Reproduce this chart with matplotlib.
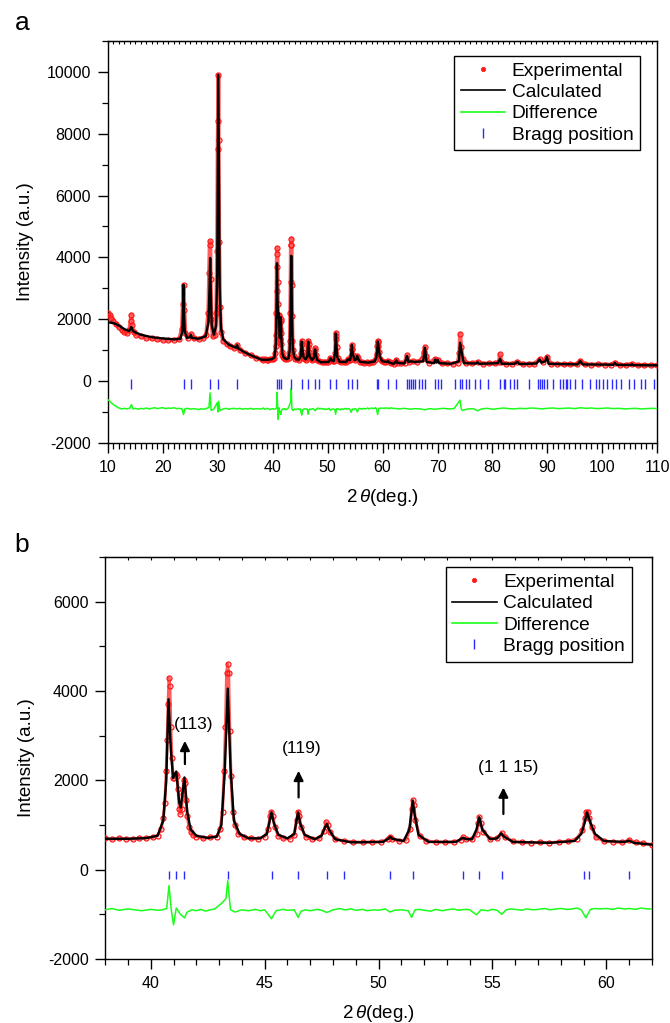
import numpy as np
import matplotlib
matplotlib.use('Agg')
import matplotlib.pyplot as plt
from matplotlib.lines import Line2D
from matplotlib.ticker import MultipleLocator

plt.rcParams['font.family'] = ['Liberation Sans', 'DejaVu Sans']
plt.rcParams['mathtext.fontset'] = 'custom'
plt.rcParams['mathtext.rm'] = 'Liberation Sans'
plt.rcParams['mathtext.it'] = 'Liberation Sans:italic'
plt.rcParams['axes.unicode_minus'] = False

# ---- panel b range (38-62 deg), also reused inside panel a ----
calc_b_x = [38.0, 39.0, 39.8, 40.3, 40.55, 40.68, 40.78, 40.88, 40.98, 41.12, 41.25, 41.32,
            41.48, 41.6, 41.75, 42.0, 42.5, 42.9, 43.1, 43.25, 43.38, 43.5, 43.65, 43.9,
            44.3, 44.8, 45.1, 45.22, 45.3, 45.4, 45.6, 46.0, 46.3, 46.4, 46.47, 46.55,
            46.75, 47.2, 47.5, 47.65, 47.73, 47.82, 48.1, 48.8, 50.2, 50.45, 50.52, 50.6,
            51.1, 51.35, 51.45, 51.5, 51.58, 51.75, 52.2, 53.4, 53.65, 53.72, 53.85, 54.1,
            54.3, 54.42, 54.55, 54.9, 55.2, 55.38, 55.5, 55.9, 57.5, 58.6, 58.9, 59.05,
            59.15, 59.3, 59.5, 59.9, 60.8, 61.0, 61.2, 62.0]
calc_b_y = [690, 690, 705, 760, 1100, 2000, 3814, 2700, 2050, 2197, 1500, 1392,
            2063, 1300, 900, 760, 710, 740, 1000, 2200, 4052, 2300, 1100, 800,
            700, 700, 800, 1100, 1281, 1050, 780, 700, 800, 1100, 1281, 1050,
            780, 680, 760, 950, 1021, 900, 680, 610, 620, 700, 737, 690,
            640, 900, 1300, 1542, 1250, 780, 620, 620, 700, 708, 680, 680,
            900, 1169, 900, 680, 700, 812, 740, 620, 600, 640, 800, 1050,
            1281, 1050, 800, 640, 620, 648, 600, 559]

obs_b_x = [38.0, 38.3, 38.6, 38.9, 39.2, 39.5, 39.8, 40.1, 40.3, 40.45, 40.55, 40.62, 40.68,
           40.72, 40.76, 40.8, 40.84, 40.88, 40.93, 40.98, 41.04, 41.1, 41.15, 41.2, 41.25,
           41.3, 41.35, 41.4, 41.45, 41.5, 41.55, 41.6, 41.68, 41.75, 41.85, 42.0, 42.3,
           42.6, 42.9, 43.05, 43.15, 43.22, 43.28, 43.33, 43.38, 43.42, 43.47, 43.52, 43.6,
           43.7, 43.85, 44.1, 44.4, 44.7, 45.0, 45.15, 45.25, 45.3, 45.36, 45.45, 45.6,
           45.8, 46.1, 46.3, 46.4, 46.47, 46.52, 46.6, 46.8, 47.1, 47.4, 47.6, 47.7,
           47.76, 47.85, 48.1, 48.5, 48.9, 49.3, 49.7, 50.1, 50.4, 50.5, 50.6, 50.9,
           51.2, 51.38, 51.45, 51.5, 51.55, 51.62, 51.8, 52.1, 52.5, 52.9, 53.3, 53.6,
           53.7, 53.85, 54.1, 54.3, 54.38, 54.42, 54.48, 54.6, 54.9, 55.2, 55.4, 55.55,
           55.9, 56.3, 56.7, 57.1, 57.5, 57.9, 58.3, 58.7, 58.95, 59.05, 59.12, 59.18,
           59.25, 59.35, 59.55, 59.9, 60.3, 60.7, 61.0, 61.3, 61.6, 62.0]
obs_b_y = [700, 680, 700, 690, 680, 700, 710, 720, 760, 900, 1150, 1500, 2200,
           2900, 3700, 4297, 4100, 3200, 2500, 2050, 2050, 2150, 2100, 1800, 1350,
           1250, 1350, 1700, 2000, 1950, 1550, 1200, 950, 850, 770, 740, 700,
           720, 740, 900, 1300, 2200, 3200, 4400, 4611, 4400, 3100, 2100, 1300,
           1000, 800, 720, 700, 690, 740, 900, 1200, 1300, 1200, 950, 760,
           700, 690, 780, 1100, 1300, 1200, 950, 740, 680, 700, 860, 1060,
           1000, 850, 680, 640, 620, 610, 620, 620, 680, 740, 690, 640,
           660, 900, 1350, 1560, 1450, 1100, 760, 640, 620, 610, 620, 660,
           720, 690, 680, 800, 1050, 1170, 1050, 850, 690, 700, 820, 740,
           630, 610, 600, 610, 600, 620, 630, 690, 880, 1150, 1300, 1280,
           1150, 950, 720, 640, 620, 610, 660, 610, 590, 560]

diff_b_x = [38.0, 38.3, 38.6, 39.0, 39.3, 39.6, 40.0, 40.3, 40.5, 40.7, 40.8, 40.9, 41.0,
            41.12, 41.3, 41.48, 41.6, 41.8, 42.0, 42.2, 42.4, 42.6, 42.8, 43.1, 43.3, 43.38,
            43.5, 43.7, 44.0, 44.3, 44.6, 44.8, 45.0, 45.3, 45.5, 45.8, 46.0, 46.3, 46.47,
            46.6, 46.8, 47.0, 47.3, 47.5, 47.73, 48.0, 48.3, 48.5, 48.8, 49.0, 49.3, 49.5,
            49.8, 50.0, 50.3, 50.5, 50.7, 51.0, 51.3, 51.45, 51.6, 51.8, 52.0, 52.3, 52.5,
            52.8, 53.0, 53.3, 53.5, 53.8, 54.0, 54.3, 54.5, 54.8, 55.0, 55.2, 55.41, 55.6,
            55.8, 56.0, 56.3, 56.5, 56.8, 57.0, 57.3, 57.5, 57.8, 58.0, 58.3, 58.5, 58.7,
            58.9, 59.1, 59.3, 59.5, 59.7, 60.0, 60.3, 60.5, 60.8, 61.0, 61.3, 61.5, 61.8, 62.0]
diff_b_y = [-900, -870, -910, -880, -900, -920, -890, -910, -900, -870, -358, -900, -1236,
            -860, -1000, -1080, -950, -900, -920, -890, -930, -900, -880, -760, -650, -246,
            -900, -950, -900, -920, -890, -920, -900, -1100, -920, -890, -910, -900, -1070,
            -930, -900, -920, -890, -910, -960, -900, -870, -900, -880, -910, -890, -920,
            -900, -910, -880, -950, -910, -900, -920, -1070, -900, -890, -910, -930, -890,
            -920, -900, -880, -910, -890, -900, -1010, -900, -920, -890, -910, -1000, -900,
            -880, -890, -910, -880, -900, -890, -870, -900, -880, -870, -890, -880, -860,
            -900, -1080, -890, -870, -880, -870, -890, -860, -880, -870, -890, -860, -880, -880]

# ---- panel a, low angle part (10-38 deg) ----
calc_lo_x = [10.0, 11.0, 12.0, 13.0, 13.9, 14.15, 14.27, 14.4, 14.7, 16.0, 18.0, 20.0, 22.0,
             23.2, 23.55, 23.7, 23.77, 23.85, 24.0, 24.4, 25.0, 25.12, 25.25, 26.5, 27.8,
             28.3, 28.5, 28.62, 28.72, 28.9, 29.3, 29.7, 29.9, 30.0, 30.1, 30.2, 30.35,
             30.6, 31.0, 32.0, 33.3, 33.54, 33.7, 35.0, 36.5]
calc_lo_y = [1900, 1880, 1800, 1680, 1620, 1700, 1750, 1680, 1600, 1500, 1420, 1380, 1350,
             1370, 1600, 2400, 3118, 2300, 1600, 1400, 1420, 1500, 1400, 1370, 1450,
             1900, 3000, 3978, 3000, 1800, 1500, 1800, 3500, 7000, 9900, 7000, 3000,
             1700, 1350, 1180, 1080, 1160, 1060, 920, 800]
obs_lo_x = [10.0, 10.3, 10.6, 11.0, 11.5, 12.0, 12.5, 13.0, 13.5, 13.9, 14.15, 14.27, 14.4,
            14.7, 15.2, 16.0, 17.0, 18.0, 19.0, 20.0, 21.0, 22.0, 23.0, 23.5, 23.65, 23.77,
            23.9, 24.1, 24.5, 25.12, 25.6, 26.5, 27.4, 27.9, 28.3, 28.45, 28.55, 28.62, 28.7,
            28.85, 29.1, 29.5, 29.75, 29.9, 30.0, 30.05, 30.1, 30.15, 30.25, 30.4, 30.6, 31.0,
            31.6, 32.3, 33.0, 33.54, 34.0, 35.0, 36.0, 37.0]
obs_lo_y = [2200, 2150, 2050, 1950, 1850, 1750, 1650, 1580, 1550, 1650, 1950, 2150, 1800,
            1600, 1500, 1450, 1400, 1380, 1350, 1330, 1320, 1340, 1350, 1700, 2500, 3100,
            2300, 1550, 1400, 1520, 1380, 1360, 1400, 1500, 2200, 3500, 4400, 4516, 3300,
            2000, 1450, 1500, 2200, 4200, 7500, 8400, 9900, 7800, 4500, 2400, 1600, 1300,
            1200, 1120, 1060, 1180, 1000, 910, 830, 760]
diff_lo_x = [10.0, 10.5, 11.0, 11.5, 12.0, 12.5, 13.0, 13.5, 14.0, 14.27, 14.6, 15.0, 15.5,
             16.0, 16.5, 17.0, 17.5, 18.0, 18.5, 19.0, 19.5, 20.0, 20.5, 21.0, 21.5, 22.0,
             22.5, 23.0, 23.5, 23.77, 24.0, 24.5, 25.0, 25.5, 26.0, 26.5, 27.0, 27.5, 28.0,
             28.4, 28.6, 28.8, 29.3, 29.9, 30.05, 30.15, 30.4, 31.0, 31.5, 32.0, 32.5, 33.0,
             33.5, 34.0, 34.5, 35.0, 35.5, 36.0, 36.5, 37.0, 37.5, 38.0]
diff_lo_y = [-600, -680, -760, -820, -870, -900, -880, -900, -870, -760, -900, -880, -910,
             -880, -900, -870, -900, -880, -860, -890, -870, -860, -890, -870, -880, -860,
             -890, -880, -900, -1080, -900, -880, -910, -890, -900, -920, -890, -910, -880,
             -850, -380, -950, -900, -700, -1000, -650, -950, -900, -880, -910, -890, -880,
             -900, -880, -910, -890, -900, -880, -910, -890, -900, -900]

# ---- panel a, high angle part (62-110 deg) ----
calc_hi_x = [62.3, 62.52, 62.7, 64.0, 64.47, 64.7, 65.2, 65.9, 67.4, 67.71, 68.0, 69.4, 69.59,
             69.8, 70.06, 70.3, 72.5, 73.9, 74.11, 74.44, 74.8, 77.0, 77.3, 77.6, 81.0, 81.38,
             81.7, 84.0, 84.55, 84.9, 88.0, 88.59, 88.9, 89.6, 89.94, 90.2, 95.5, 96.0, 96.4,
             102.0, 102.3, 102.6, 105.2, 105.4, 105.6, 110.0]
calc_hi_y = [600, 670, 590, 570, 810, 620, 640, 620, 640, 1080, 620, 580, 700,
             600, 680, 580, 560, 640, 1242, 900, 580, 570, 610, 560, 580, 720,
             560, 560, 620, 550, 570, 700, 600, 640, 780, 560, 540, 650, 540,
             530, 590, 525, 520, 550, 515, 510]
obs_hi_x = [62.3, 62.52, 62.8, 63.4, 64.0, 64.47, 64.8, 65.5, 66.3, 67.2, 67.55, 67.71, 67.9,
            68.5, 69.59, 70.06, 70.8, 71.8, 72.8, 73.7, 74.0, 74.11, 74.3, 74.6, 75.2, 76.2,
            77.3, 78.2, 79.3, 80.5, 81.2, 81.38, 81.6, 82.5, 83.6, 84.55, 85.5, 86.6, 87.6,
            88.59, 89.2, 89.94, 90.6, 91.8, 93.0, 94.2, 95.3, 96.0, 96.8, 98.0, 99.2, 100.4,
            101.5, 102.3, 103.2, 104.3, 105.4, 106.5, 107.6, 108.8, 110.0]
obs_hi_y = [620, 690, 600, 580, 600, 830, 620, 640, 620, 700, 950, 1100, 800,
            600, 710, 690, 580, 570, 560, 600, 900, 1533, 1100, 700, 600, 570,
            620, 560, 570, 570, 620, 864, 610, 560, 560, 630, 550, 560, 560,
            710, 620, 790, 560, 550, 540, 550, 540, 660, 540, 530, 540, 535,
            530, 600, 525, 520, 560, 515, 520, 510, 515]
diff_hi_x = [62.0, 63.0, 64.0, 65.0, 66.0, 67.0, 67.7, 68.5, 69.5, 70.0, 71.0, 72.0, 73.0,
             74.1, 74.3, 74.5, 75.5, 76.5, 77.3, 78.0, 79.0, 80.0, 81.0, 82.0, 83.0, 84.0,
             85.0, 86.0, 87.0, 88.0, 89.0, 90.0, 91.0, 92.0, 93.0, 94.0, 95.0, 96.0, 97.0,
             98.0, 99.0, 100.0, 101.0, 102.0, 103.0, 104.0, 105.0, 106.0, 107.0, 108.0, 109.0,
             110.0]
diff_hi_y = [-880, -900, -880, -910, -890, -900, -930, -890, -910, -900, -880, -900, -890,
             -616, -880, -950, -900, -890, -960, -900, -880, -910, -890, -870, -890, -900,
             -880, -890, -870, -880, -900, -880, -870, -890, -880, -870, -890, -860, -880,
             -870, -890, -880, -870, -890, -880, -900, -890, -880, -900, -890, -880, -890]

bragg_a = [14.27, 23.77, 25.12, 28.62, 30.1, 33.54, 40.8, 41.12, 41.48, 43.38, 45.33, 46.47,
           47.73, 48.5, 50.5, 51.5, 53.7, 54.42, 55.41, 59.02, 59.24, 61.01, 62.52, 64.47,
           64.81, 65.21, 65.48, 65.89, 66.69, 67.17, 67.71, 69.59, 70.06, 70.6, 73.1, 74.11,
           74.44, 75.12, 75.79, 76.8, 77.81, 79.16, 81.38, 82.06, 82.33, 83.2, 83.88, 84.55,
           86.57, 88.26, 88.59, 88.93, 89.47, 89.94, 90.95, 92.3, 92.84, 93.31, 93.65, 94.19,
           95.0, 96.34, 97.69, 98.9, 99.37, 100.05, 100.92, 101.73, 102.41, 103.42, 104.77,
           105.78, 107.12, 107.8, 109.49]
bragg_b = [40.8, 41.12, 41.48, 43.38, 45.33, 46.47, 47.73, 48.5, 50.5, 51.5, 53.7, 54.42,
           55.41, 59.02, 59.24, 61.01]

hkl_labels = ['(113)', '(119)', '(1 1 15)']
hkl_pos = [41.5, 46.49, 55.48]

# full pattern for panel a
calc_a_x = np.concatenate([calc_lo_x, calc_b_x, calc_hi_x])
calc_a_y = np.concatenate([calc_lo_y, calc_b_y, calc_hi_y])
obs_a_x = np.concatenate([obs_lo_x, obs_b_x, obs_hi_x])
obs_a_y = np.concatenate([obs_lo_y, obs_b_y, obs_hi_y])
diff_a_x = np.concatenate([diff_lo_x, diff_b_x[1:], diff_hi_x[1:]])
diff_a_y = np.concatenate([diff_lo_y, diff_b_y[1:], diff_hi_y[1:]])

RED = '#ff1a1a'
GREEN = '#19ff19'
BLUE = '#2b2bff'


def draw_panel(ax, ox, oy, cx, cy, dx, dy, bragg, bragg_y, ms_tick, band):
    ax.plot(ox, oy, '-', color=RED, lw=band, alpha=0.7, zorder=2)
    ax.plot(ox, oy, 'o', mfc='none', mec=RED, mew=0.9, ms=3.6, zorder=3)
    ax.plot(cx, cy, '-', color='black', lw=1.7, zorder=4)
    ax.plot(dx, dy, '-', color=GREEN, lw=1.1, zorder=3)
    ax.plot(bragg, [bragg_y] * len(bragg), '|', color=BLUE, ms=ms_tick, mew=1.0, zorder=3)
    handles = [Line2D([], [], ls='none', marker='o', mfc=RED, mec=RED, mew=0.6, ms=3),
               Line2D([], [], color='black', lw=1.2),
               Line2D([], [], color=GREEN, lw=1.2),
               Line2D([], [], ls='none', marker='|', color=BLUE, ms=7, mew=1.0)]
    return handles


def style_axes(ax, xmaj, ymaj):
    ax.xaxis.set_major_locator(MultipleLocator(xmaj))
    ax.xaxis.set_minor_locator(MultipleLocator(1))
    ax.yaxis.set_major_locator(MultipleLocator(ymaj))
    ax.yaxis.set_minor_locator(MultipleLocator(1000))
    ax.tick_params(which='major', direction='out', length=7, width=1.0, labelsize=11.5,
                   pad=5)
    ax.tick_params(which='minor', direction='out', length=4, width=0.9)
    top = ax.secondary_xaxis('top')
    top.xaxis.set_major_locator(MultipleLocator(xmaj))
    top.xaxis.set_minor_locator(MultipleLocator(1))
    top.tick_params(which='both', direction='in', length=2.5, width=0.8, labeltop=False)
    for s in ax.spines.values():
        s.set_linewidth(1.0)
    ax.set_ylabel('Intensity (a.u.)', fontsize=13.5, labelpad=9)
    ax.set_xlabel(r'2$\,\theta$(deg.)', fontsize=13.5, labelpad=9)


labels = ['Experimental', 'Calculated', 'Difference', 'Bragg position']

fig = plt.figure(figsize=(6.70, 10.23), dpi=100)

ax1 = fig.add_axes([0.161, 0.567, 0.820, 0.393])
h = draw_panel(ax1, obs_a_x, obs_a_y, calc_a_x, calc_a_y, diff_a_x, diff_a_y,
               bragg_a, -90, 6.5, 3.0)
ax1.set_xlim(10, 110)
ax1.set_ylim(-2000, 11000)
style_axes(ax1, 10, 2000)
ax1.legend(h, labels, loc='upper right', bbox_to_anchor=(0.969, 0.963), borderaxespad=0,
           fontsize=13.8, fancybox=False, edgecolor='black', framealpha=1,
           handlelength=2.3, handletextpad=0.35, labelspacing=0.2, borderpad=0.35)
ax1.legend_.get_frame().set_linewidth(1.0)

ax2 = fig.add_axes([0.157, 0.0626, 0.816, 0.393])
h = draw_panel(ax2, obs_b_x, obs_b_y, calc_b_x, calc_b_y, diff_b_x, diff_b_y,
               bragg_b, -110, 6, 2.2)
ax2.set_xlim(38, 62)
ax2.set_ylim(-2000, 7000)
style_axes(ax2, 5, 2000)
ax2.legend(h, labels, loc='upper right', bbox_to_anchor=(0.963, 0.975), borderaxespad=0,
           fontsize=13.8, fancybox=False, edgecolor='black', framealpha=1,
           handlelength=2.3, handletextpad=0.35, labelspacing=0.2, borderpad=0.35)
ax2.legend_.get_frame().set_linewidth(1.0)

# hkl arrows and labels
arrow_from = [2362, 1616, 1245]
arrow_to = [2883, 2212, 1839]
text_xy = [(41.9, 3256), (46.64, 2720), (55.67, 2286)]
for lab, x0, y0, y1, (tx, ty) in zip(hkl_labels, hkl_pos, arrow_from, arrow_to, text_xy):
    ax2.annotate('', xy=(x0, y1), xytext=(x0, y0),
                 arrowprops=dict(arrowstyle='-|>', color='black', lw=1.6, mutation_scale=14,
                                 shrinkA=0, shrinkB=0))
    ax2.text(tx, ty, lab, ha='center', va='center', fontsize=12.5)

fig.text(0.022, 0.978, 'a', fontsize=19, ha='left', va='center')
fig.text(0.022, 0.467, 'b', fontsize=19, ha='left', va='center')

fig.savefig('out.png', dpi=100)
